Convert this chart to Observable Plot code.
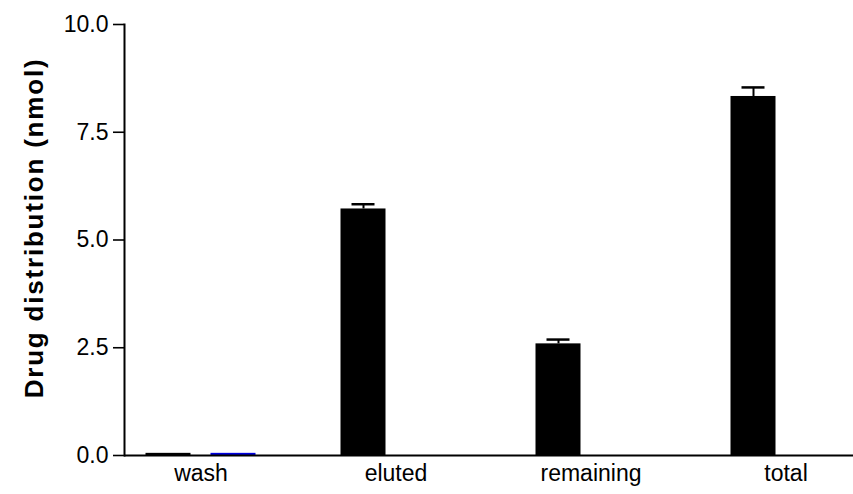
<!DOCTYPE html>
<html>
<head>
<meta charset="utf-8">
<script src="https://cdn.jsdelivr.net/npm/d3@7"></script>
<script src="https://cdn.jsdelivr.net/npm/@observablehq/plot@0.6"></script>
<style>
  html, body { margin: 0; padding: 0; background: #fff; }
  #chart svg { display: block; }
  #chart text { font-family: "Liberation Sans", Arial, sans-serif; }
</style>
</head>
<body>
<div id="chart"></div>
<script>
// Drug distribution per fraction (nmol), mean ± SEM
const categories = ["wash", "eluted", "remaining", "total"];
const seriesA = [0.05, 5.72, 2.59, 8.33];      // black bars
const seriesAErr = [0, 0.11, 0.10, 0.21];      // upper error
const seriesB = [0.05, 0, 0, 0];               // blue bars
const yTicks = [0, 2.5, 5, 7.5, 10];
const yTitle = "Drug distribution (nmol)";

const rowsA = categories.map((c, i) => ({cat: c, v: seriesA[i], hi: seriesA[i] + seriesAErr[i], err: seriesAErr[i]}));
const rowsB = categories.map((c, i) => ({cat: c, v: seriesB[i]}));
const errRows = rowsA.filter(d => d.err > 0);

const chart = Plot.plot({
  width: 853,
  height: 494,
  marginLeft: 124,
  marginRight: 0,
  marginTop: 24,
  marginBottom: 39,
  x: {domain: categories, range: [102.5, 882.5], padding: 0},
  y: {domain: [0, 10]},
  marks: [
    // black series
    Plot.barY(rowsA, {x: "cat", y: "v", fill: "#000", dx: -32.5, insetLeft: 75, insetRight: 75}),
    // blue series
    Plot.barY(rowsB, {x: "cat", y: "v", fill: "#0000e0", dx: 32.5, insetLeft: 75, insetRight: 75}),
    // error bars
    Plot.ruleX(errRows, {x: "cat", y1: "v", y2: "hi", dx: -32.5, stroke: "#000", strokeWidth: 2}),
    Plot.tickY(errRows, {x: "cat", y: "hi", dx: -32.5, insetLeft: 86, insetRight: 86, stroke: "#000", strokeWidth: 2.5}),
    // axes
    Plot.frame({anchor: "left", stroke: "#000", strokeWidth: 2}),
    Plot.ruleY([0], {stroke: "#000", strokeWidth: 2}),
    Plot.axisY({ticks: yTicks, tickFormat: d3.format(".1f"), tickSize: 11, tickPadding: 5,
      fontSize: 23, label: null, strokeWidth: 1.6, color: "#000"}),
    Plot.axisX({tickSize: 0, tickPadding: 9, fontSize: 23, label: null, color: "#000",
      style: {letterSpacing: "1.5px"}}),
    Plot.text([yTitle], {frameAnchor: "left", rotate: -90, dx: -90, dy: -12,
      fontSize: 26, fontWeight: "bold", fill: "#000", textAnchor: "middle", lineAnchor: "middle"})
  ]
});

chart.querySelectorAll("text").forEach(t => {
  if (t.textContent === yTitle) t.style.letterSpacing = "1.8px";
});
document.getElementById("chart").appendChild(chart);
</script>
</body>
</html>
